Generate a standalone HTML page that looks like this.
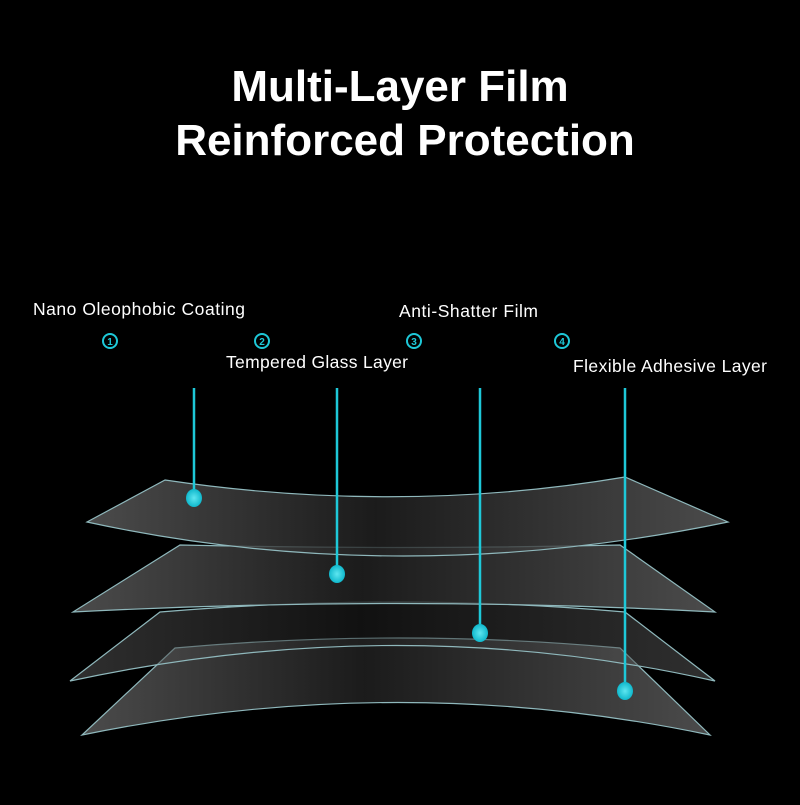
<!DOCTYPE html>
<html><head><meta charset="utf-8"><style>
html,body{margin:0;padding:0;background:#000;}
body{width:800px;height:800px;overflow:hidden;position:relative;font-family:"Liberation Sans",sans-serif;}
</style></head><body>
<svg width="800" height="800" viewBox="0 0 800 800" xmlns="http://www.w3.org/2000/svg">
<defs>
<linearGradient id="g" x1="0" y1="0" x2="1" y2="0">
<stop offset="0" stop-color="#5e5e5e"/><stop offset="0.45" stop-color="#222"/><stop offset="1" stop-color="#5e5e5e"/>
</linearGradient>
<radialGradient id="dot"><stop offset="0" stop-color="#5ee6f0"/><stop offset="1" stop-color="#10b8cc"/></radialGradient>
</defs>
<rect width="800" height="800" fill="#000"/>
<text x="400" y="101" fill="#fff" font-size="44" font-weight="bold" text-anchor="middle">Multi-Layer Film</text>
<text x="405" y="155" fill="#fff" font-size="44" font-weight="bold" text-anchor="middle">Reinforced Protection</text>

<g fill="#fff" font-size="17.5">
<text x="33" y="315" textLength="212">Nano Oleophobic Coating</text>
<text x="399" y="317" textLength="139">Anti-Shatter Film</text>
<text x="226" y="368" textLength="182">Tempered Glass Layer</text>
<text x="573" y="372" textLength="194">Flexible Adhesive Layer</text>
</g>
<g fill="none" stroke="#1ec8d8" stroke-width="2">
<circle cx="110" cy="341" r="7"/><circle cx="262" cy="341" r="7"/><circle cx="414" cy="341" r="7"/><circle cx="562" cy="341" r="7"/>
</g>
<g fill="#1ec8d8" font-size="10" font-weight="bold" text-anchor="middle">
<text x="110" y="345">1</text><text x="262" y="345">2</text><text x="414" y="345">3</text><text x="562" y="345">4</text>
</g>

<g stroke="#8fb8bc" stroke-width="1.2" fill="url(#g)" fill-opacity="0.8">
<path d="M175 648 Q400 628 620 648 L710 735 Q400 670 82 735 Z"/>
<path d="M160 612 Q400 592 625 612 L715 681 Q400 610 70 681 Z" fill-opacity="0.5"/>
<path d="M180 545 Q400 550 620 545 L715 612 Q400 595 73 612 Z"/>
<path d="M165 480 Q400 515 625 477 L728 522 Q400 590 87 522 Z"/>
</g>

<g stroke="#1ec8d8" stroke-width="2.5">
<line x1="194" y1="388" x2="194" y2="498"/>
<line x1="337" y1="388" x2="337" y2="574"/>
<line x1="480" y1="388" x2="480" y2="633"/>
<line x1="625" y1="388" x2="625" y2="691"/>
</g>
<g fill="url(#dot)">
<ellipse cx="194" cy="498" rx="8" ry="9"/>
<ellipse cx="337" cy="574" rx="8" ry="9"/>
<ellipse cx="480" cy="633" rx="8" ry="9"/>
<ellipse cx="625" cy="691" rx="8" ry="9"/>
</g>
</svg>
</body></html>
